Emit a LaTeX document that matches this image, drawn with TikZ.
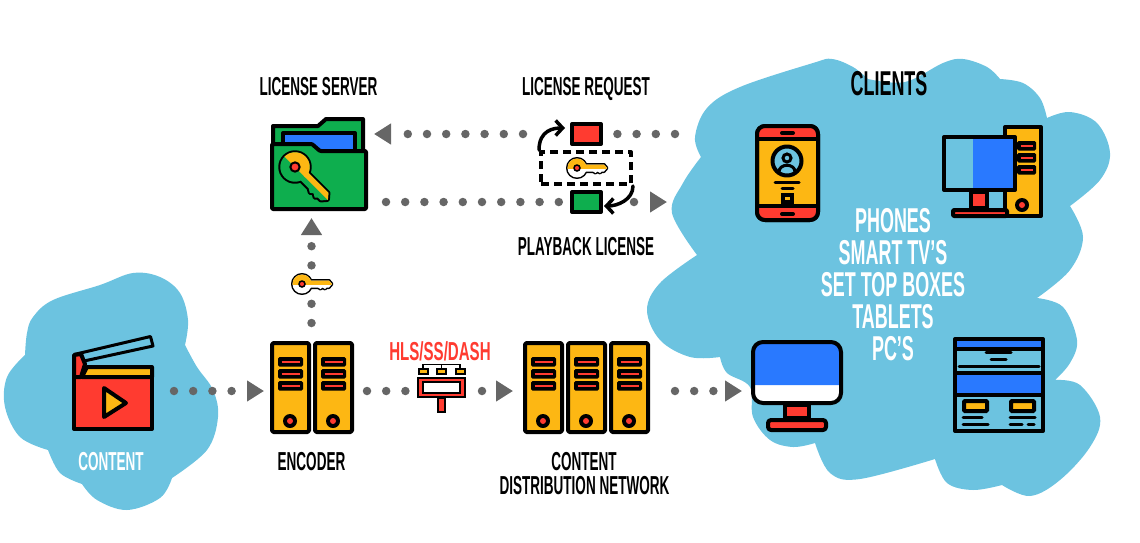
\documentclass[tikz,border=0pt]{standalone}
\usepackage{fontspec}
\usetikzlibrary{arrows.meta}
\newfontfamily\bebas[FakeStretch=0.52]{Liberation Sans}
\newfontfamily\bebaswide[FakeStretch=0.58]{Liberation Sans}
\definecolor{cloudblue}{HTML}{6CC3E0}
\definecolor{screenblue}{HTML}{2979FF}
\definecolor{amber}{HTML}{FDB713}
\definecolor{alertred}{HTML}{FF3B30}
\definecolor{foldergreen}{HTML}{0EAE4E}
\definecolor{dotgray}{HTML}{666666}
\newcommand{\keyshape}{(8,-3.5) -- (27,-3.5) -- (30,0) -- (27,3.5) -- (24.5,3.5) -- (23,5) -- (20.5,3.5) -- (18.5,5) -- (16,3.5) -- (8,3.5)}

\begin{document}
\begin{tikzpicture}[
        x=1pt,
        y=-1pt,
        icon/.style={draw=black, line width=4pt, line join=round},
        textline/.style={draw=black, line width=3pt, line cap=round},
        spot/.style={minimum width=#1, inner sep=0pt, outer sep=0pt},
        flow/.style={dotgray, line width=8.5pt, line cap=round, dash pattern=on 0pt off 19.2pt},
        flowtip/.style={flow, -{Triangle[length=17pt,width=20pt]}},
        swap/.style={draw=black, line width=3.5pt, line cap=round, -{Straight Barb[length=7pt,width=15pt]}},
        heading/.style={font=\bebas\bfseries\fontsize{26}{26}\selectfont, inner sep=0pt, text depth=0pt},
        bigheading/.style={heading, font=\bebas\bfseries\fontsize{34.5}{32}\selectfont},
        pics/slot/.style={code={
            \fill[black, rounded corners=1.5] (0,0) rectangle (#1,9.5);
            \draw[alertred, line width=1.6pt] (3.5,4.75) -- (#1-3.5,4.75);
        }},
        pics/rack/.style={code={
            \draw[icon, fill=amber, rounded corners=1.5] (0,0) rectangle (37,89);
            \pic at (6,14) {slot=25};
            \pic at (6,26) {slot=25};
            \pic at (6,38) {slot=25};
            \fill[black] (18,78) circle[radius=7];
            \fill[alertred] (18,78) circle[radius=3];
        }},
        pics/key/.style 2 args={code={
            \draw[line width=#2, line join=round] (0,0) circle[radius=9.5];
            \draw[line width=#2, line join=round] \keyshape -- cycle;
            \fill[#1] (0,0) circle[radius=9.5];
            \fill[#1] \keyshape -- cycle;
            \begin{scope}
                \clip (-12,-12) rectangle (32,0);
                \fill[amber] (0,0) circle[radius=9.5];
                \fill[amber] \keyshape -- cycle;
            \end{scope}
            \draw[fill=alertred, line width=0.5*#2] (0,0) circle[radius=3];
        }},
    ]
    \useasboundingbox (0,0) rectangle (1140,542);

    % clouds
    \fill[cloudblue]
        plot[smooth, tension=.6] coordinates {(25,355) (27,333) (33,317) (53,300) (100,285) (133,273) (160,277) (180,293) (188,320) (185,345)}
        -- plot[smooth, tension=.6] coordinates {(185,345) (197,367) (213,390) (218,417) (207,450) (172,478)}
        -- plot[smooth, tension=.6] coordinates {(172,478) (160,498) (127,510) (97,500) (82,484)}
        -- plot[smooth, tension=.6] coordinates {(82,484) (60,473) (48,450)}
        -- plot[smooth, tension=.6] coordinates {(48,450) (20,437) (5,407) (7,377) (25,355)}
        -- cycle;
    \fill[cloudblue]
        plot[smooth, tension=.6] coordinates {(701,157) (695,137) (707,108) (740,87) (813,63) (832,59) (853,67) (868,79)}
        -- plot[smooth, tension=.6] coordinates {(868,79) (905,82) (943,63) (963,59) (987,67) (1000,79)}
        -- plot[smooth, tension=.6] coordinates {(1000,79) (1023,83) (1040,98) (1047,118)}
        -- plot[smooth, tension=.6] coordinates {(1047,118) (1070,112) (1097,123) (1110,153) (1100,180) (1070,206)}
        -- plot[smooth, tension=.6] coordinates {(1070,206) (1083,237) (1070,270) (1037,298)}
        -- plot[smooth, tension=.6] coordinates {(1037,298) (1063,307) (1077,340) (1070,363) (1055,380)}
        -- plot[smooth, tension=.6] coordinates {(1055,380) (1080,385) (1100,417) (1090,447) (1060,480) (1030,496) (1002,485)}
        -- plot[smooth, tension=.6] coordinates {(1002,485) (973,490) (947,483) (935,459)}
        -- plot[smooth, tension=.6] coordinates {(935,459) (860,479) (830,473) (815,443)}
        -- plot[smooth, tension=.6] coordinates {(815,443) (793,447) (770,440) (753,417) (750,387) (727,373) (720,357)}
        -- plot[smooth, tension=.6] coordinates {(720,357) (690,357) (660,340) (647,310) (660,283) (697,255)}
        -- plot[smooth, tension=.6] coordinates {(697,255) (672,213) (683,183) (701,157)}
        -- cycle;

    % anchors of the icons
    \node [spot=82pt, minimum height=100pt] (content) at (113,391) {};
    \node [spot=83pt, minimum height=100pt] (encoder) at (311.5,391) {};
    \node [spot=49pt, minimum height=50pt] (packager) at (441.5,391) {};
    \node [spot=127pt, minimum height=100pt] (cdn) at (586.5,391) {};
    \node [spot=94pt, minimum height=100pt] (tv) at (797,391) {};
    \node [spot=97pt, minimum height=93pt] (server) at (318.5,163.5) {};
    \coordinate (clients in) at (675,134);
    \coordinate (clients out) at (667,202);

    % clapper
    \draw[icon, fill=alertred] (74,377) rectangle (152,429);
    \draw[icon, fill=amber] (87,367) -- (152,367) -- (152,377) -- (82,377) -- cycle;
    \draw[icon, fill=alertred] (74,355) -- (81,354) -- (85,364) -- (81,377) -- (74,377) -- cycle;
    \draw[icon, line width=3pt] (74,354.5) -- (150.5,336.5) -- (153,346) -- (84,361);
    \draw[icon, fill=amber] (104,388) -- (126,403) -- (104,417) -- cycle;

    % encoder and cdn
    \pic at (272,343) {rack};
    \pic at (315,343) {rack};
    \pic at (525,343) {rack};
    \pic at (568,343) {rack};
    \pic at (611,343) {rack};

    % packager
    \draw[black, line width=1.3pt] (423,368) -- (423,364.5) -- (460,364.5) -- (460,368);
    \draw[black, line width=1.3pt] (441.5,364.5) -- (441.5,368);
    \draw[black, line width=2pt, fill=amber] (419,369) rectangle (428,373.5);
    \draw[black, line width=2pt, fill=amber] (437,369) rectangle (446,373.5);
    \draw[black, line width=2pt, fill=amber] (456,369) rectangle (465,373.5);
    \draw[black, line width=2.5pt, fill=alertred] (438,398) rectangle (445,412);
    \draw[black, line width=2.5pt, fill=alertred] (418,378) rectangle (465,397);
    \draw[black, line width=1.5pt, fill=white] (423,382) rectangle (460,393);

    % license server
    \draw[icon, fill=foldergreen] (273,145) -- (273,126) -- (318,126) -- (326,119) -- (363,119) -- (363,150);
    \draw[icon, fill=screenblue] (283,150) -- (283,133) -- (355,133) -- (355,150);
    \draw[icon, fill=foldergreen, rounded corners=1] (272,209) -- (272,144) -- (312,144) -- (320,151) -- (366,151) -- (366,209) -- cycle;
    \pic[scale=1.55, rotate=-45] at (295,167) {key={foldergreen}{4pt}};

    % phone
    \draw[icon, fill=amber, rounded corners=8] (757,126) rectangle (818,220);
    \fill[alertred] (758,139) [rounded corners=7] -- (758,127) -- (817,127) [sharp corners] -- (817,139) -- cycle;
    \fill[alertred] (758,206) [rounded corners=7] -- (758,219) -- (817,219) [sharp corners] -- (817,206) -- cycle;
    \draw[icon, rounded corners=8] (757,126) rectangle (818,220);
    \draw[black, line width=4pt] (757,139) -- (818,139);
    \draw[black, line width=4pt] (757,206) -- (818,206);
    \draw[textline, line width=4pt] (782,133) -- (793,133);
    \draw[textline, line width=4pt] (782,214) -- (793,214);
    \draw[icon, fill=cloudblue] (787,161) circle[radius=14.5];
    \draw[black, line width=3pt] (787,158) circle[radius=4];
    \draw[black, line width=3pt] (779,172) .. controls (779,163) and (795,163) .. (795,172);
    \draw[textline] (775,182) -- (799,182);
    \draw[textline] (782,188) -- (793,188);
    \draw[black, line width=4pt, fill=amber] (783,195) rectangle (792,202);

    % desktop
    \draw[icon, fill=amber] (1005,127) rectangle (1041,216);
    \pic at (1017,141) {slot=19};
    \pic at (1017,153) {slot=19};
    \pic at (1017,165) {slot=19};
    \fill[black] (1022,205) circle[radius=7];
    \fill[alertred] (1022,205) circle[radius=3];
    \fill[screenblue] (973,137) rectangle (1015,190);
    \draw[icon] (944,137) rectangle (1015,190);
    \draw[icon, fill=alertred] (971,192) rectangle (987,208);
    \draw[icon, fill=alertred, rounded corners=1] (953,210) rectangle (1007,216);

    % television
    \fill[white, rounded corners=10] (753,342) rectangle (841,403);
    \fill[screenblue] (753,385) [rounded corners=10] -- (753,342) -- (841,342) [sharp corners] -- (841,385) -- cycle;
    \draw[icon, rounded corners=10] (753,342) rectangle (841,403);
    \draw[icon, fill=alertred] (785,405) rectangle (809,418);
    \draw[icon, fill=alertred, rounded corners=3] (768,420) rectangle (826,430);

    % web page
    \fill[screenblue] (955,341) rectangle (1043,347);
    \fill[screenblue] (955,375) rectangle (1043,394);
    \draw[icon] (955,339) rectangle (1043,431);
    \draw[black, line width=4pt] (955,349) -- (1043,349);
    \draw[black, line width=4pt] (955,373) -- (1043,373);
    \draw[black, line width=4pt] (955,395) -- (1043,395);
    \draw[textline] (986,352) -- (1011,352);
    \draw[textline] (991,359) -- (1006,359);
    \draw[textline] (959,366) -- (1039,366);
    \draw[black, line width=4pt, fill=amber, rounded corners=1] (964,401) rectangle (987,411);
    \draw[black, line width=4pt, fill=amber, rounded corners=1] (1011,401) rectangle (1034,411);
    \draw[textline] (963,417) -- (982,417);
    \draw[textline] (963,424) -- (988,424);
    \draw[textline] (1010,417) -- (1035,417);
    \draw[textline] (1010,424) -- (1022,424);
    \draw[textline] (1028,424) -- (1034,424);

    % license exchange
    \node [icon, fill=alertred, minimum width=29pt, minimum height=20pt, inner sep=0pt] (request) at (586.5,134) {};
    \node [icon, fill=foldergreen, minimum width=29pt, minimum height=20pt, inner sep=0pt] (playback) at (586.5,202) {};
    \node [icon, dash pattern=on 8pt off 5pt, minimum width=90pt, minimum height=32pt, inner sep=0pt] (keybox) at (586,168) {};
    \pic at (577,168) {key={white}{3pt}};
    \draw[swap, shorten >=5pt] (keybox.north west) .. controls +(0,-20) and +(-16,0) .. ([yshift=6pt]request.west);
    \draw[swap, shorten >=1pt] (keybox.south east) .. controls +(0,14) and +(14,0) .. ([yshift=-4pt]playback.east);

    % dotted connectors
    \draw[flow] (clients in) -- (request.east);
    \draw[flowtip, shorten <=47pt, shorten >=7pt] (request) -- (server.east |- request);
    \draw[flow, shorten <=19pt] (server.east |- playback) -- (playback.west);
    \draw[flowtip, shorten <=31pt] (playback) -- (clients out);
    \draw[flowtip, shorten <=18pt, shorten >=8pt] (encoder.north) -- (encoder.north |- server.south);
    \draw[flowtip, shorten <=20pt, shorten >=6pt] (content) -- (encoder);
    \draw[flow, shorten <=14pt] (encoder) -- (packager);
    \draw[flowtip, shorten <=16pt, shorten >=10pt] (packager) -- (cdn);
    \draw[flowtip, shorten <=25pt, shorten >=8pt] (cdn) -- (tv);
    \pic at (302,284) {key={white}{3pt}};

    % labels
    \node [heading] (server label) at (318.5,86) {LICENSE SERVER};
    \node [heading] (request label) at (586,86) {LICENSE REQUEST};
    \node [heading] (playback label) at (586,246) {PLAYBACK LICENSE};
    \node [bigheading] (clients) at (889,83.5) {CLIENTS};
    \node [bigheading, white, align=center] (devices) at (893,284) {PHONES\\SMART TV’S\\SET TOP BOXES\\TABLETS\\PC’S};
    \node [heading, white] (content label) at (111,461) {CONTENT};
    \node [heading] (encoder label) at (311.5,461) {ENCODER};
    \node [heading, alertred, font=\bebaswide\bfseries\fontsize{26}{26}\selectfont] (packager label) at (440,351) {HLS/SS/DASH};
    \node [heading] (cdn label one) at (584,461) {CONTENT};
    \node [heading] (cdn label two) at (584.5,485) {DISTRIBUTION NETWORK};
\end{tikzpicture}
\end{document}
